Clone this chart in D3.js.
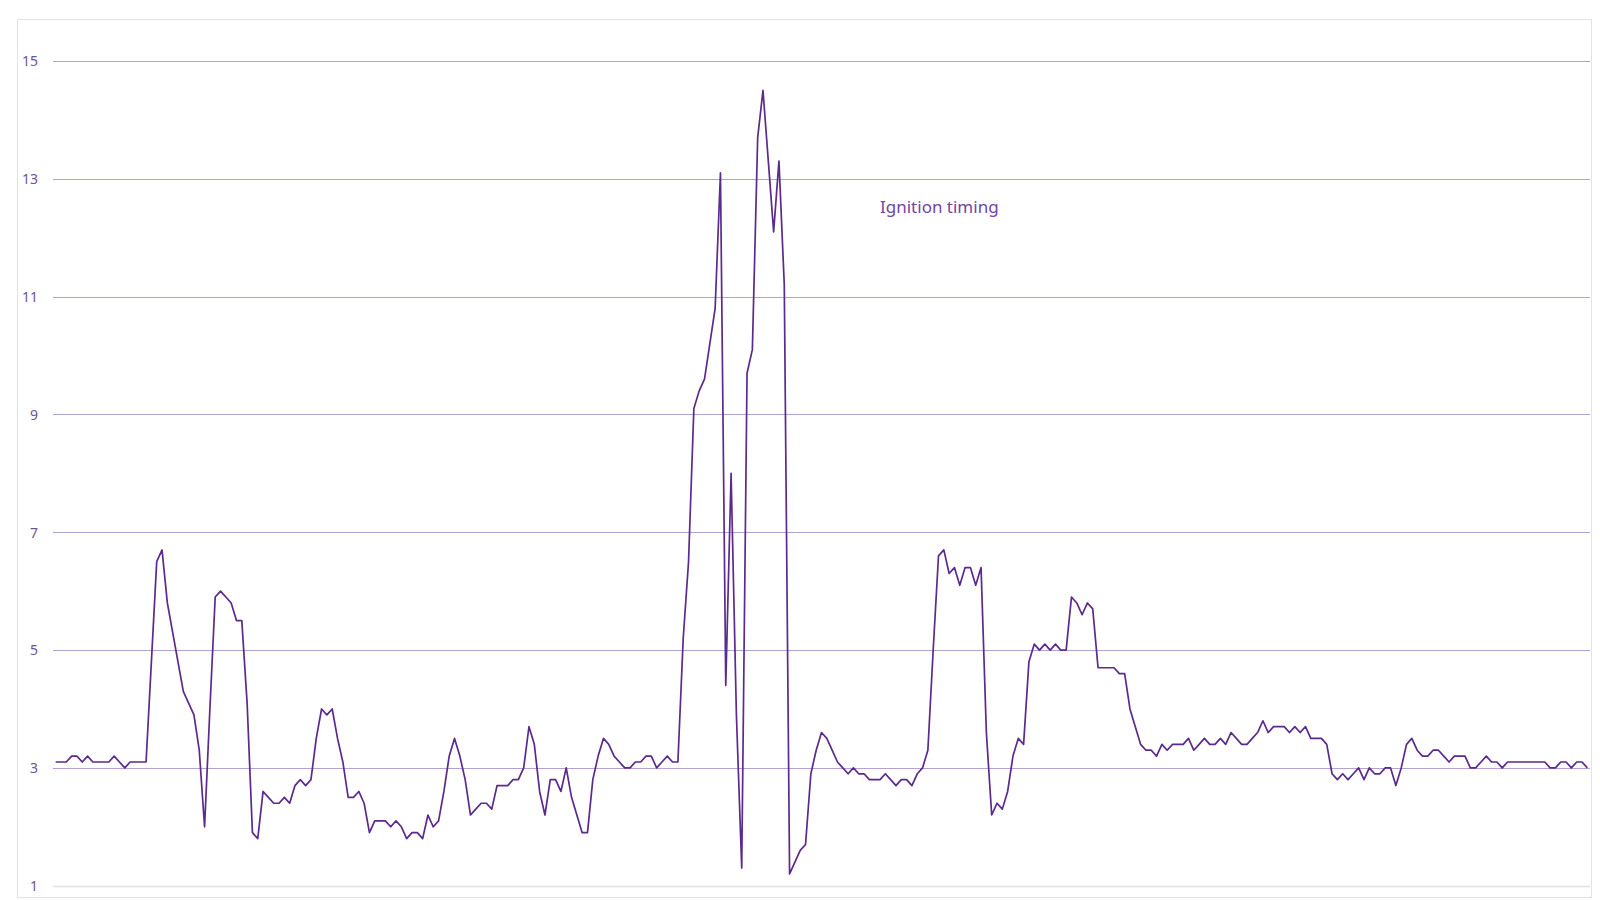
<!DOCTYPE html>
<html>
<head>
<meta charset="utf-8">
<script src="https://cdn.jsdelivr.net/npm/d3@7"></script>
<style>
  html, body { margin: 0; padding: 0; background: #ffffff; }
  svg { display: block; }
</style>
</head>
<body>
<svg id="chart" width="1600" height="900"></svg>
<script>
const seriesName = "Ignition timing";
const yTicks = [1, 3, 5, 7, 9, 11, 13, 15];
const ignition = [
  3.1,3.1,3.1,3.2,3.2,3.1,3.2,3.1,3.1,3.1,3.1,3.2,3.1,3.0,3.1,3.1,3.1,3.1,
  4.8,6.5,6.7,5.8,5.3,4.8,4.3,4.1,3.9,3.3,2.0,4.0,5.9,6.0,5.9,5.8,5.5,5.5,4.1,1.9,1.8,
  2.6,2.5,2.4,2.4,2.5,2.4,2.7,2.8,2.7,2.8,3.5,4.0,3.9,4.0,3.5,3.1,2.5,2.5,2.6,2.4,1.9,
  2.1,2.1,2.1,2.0,2.1,2.0,1.8,1.9,1.9,1.8,2.2,2.0,2.1,2.6,3.2,3.5,3.2,2.8,2.2,2.3,2.4,2.4,
  2.3,2.7,2.7,2.7,2.8,2.8,3.0,3.7,3.4,2.6,2.2,2.8,2.8,2.6,3.0,2.5,2.2,1.9,1.9,2.8,3.2,3.5,
  3.4,3.2,3.1,3.0,3.0,3.1,3.1,3.2,3.2,3.0,3.1,3.2,3.1,3.1,
  5.2,6.5,9.1,9.4,9.6,10.2,10.8,13.1,4.4,8.0,3.9,1.3,9.7,10.1,13.7,14.5,13.3,12.1,13.3,11.2,
  1.2,1.4,1.6,1.7,2.9,3.3,3.6,3.5,3.3,3.1,3.0,2.9,3.0,2.9,2.9,2.8,2.8,2.8,2.9,2.8,2.7,2.8,2.8,2.7,2.9,3.0,3.3,
  5.0,6.6,6.7,6.3,6.4,6.1,6.4,6.4,6.1,6.4,3.6,2.2,2.4,2.3,2.6,3.2,3.5,3.4,
  4.8,5.1,5.0,5.1,5.0,5.1,5.0,5.0,5.9,5.8,5.6,5.8,5.7,4.7,4.7,4.7,4.7,4.6,4.6,4.0,3.7,
  3.4,3.3,3.3,3.2,3.4,3.3,3.4,3.4,3.4,3.5,3.3,3.4,3.5,3.4,3.4,3.5,3.4,3.6,3.5,3.4,3.4,3.5,3.6,
  3.8,3.6,3.7,3.7,3.7,3.6,3.7,3.6,3.7,3.5,3.5,3.5,3.4,
  2.9,2.8,2.9,2.8,2.9,3.0,2.8,3.0,2.9,2.9,3.0,3.0,2.7,3.0,3.4,3.5,3.3,3.2,3.2,3.3,3.3,3.2,3.1,
  3.2,3.2,3.2,3.0,3.0,3.1,3.2,3.1,3.1,3.0,3.1,3.1,3.1,3.1,3.1,3.1,3.1,3.1,3.0,3.0,3.1,3.1,3.0,3.1,3.1,3.0
];
const categories = ignition.map((_, i) => i + 1);

const svg = d3.select("#chart");
const plot = { left: 53, right: 1590, top: 61, bottom: 885.7 };

// outer chart border
svg.append("rect")
  .attr("x", 17.5).attr("y", 19.5)
  .attr("width", 1574).attr("height", 878)
  .attr("fill", "#ffffff")
  .attr("stroke", "#e3e3e3").attr("stroke-width", 1);

const x = d3.scalePoint()
  .domain(categories)
  .range([plot.left, plot.right])
  .padding(0.5);

const y = d3.scaleLinear()
  .domain([1, 15])
  .range([plot.bottom, plot.top]);

// gridlines
svg.append("g")
  .selectAll("line")
  .data(yTicks)
  .join("line")
  .attr("x1", plot.left).attr("x2", plot.right)
  .attr("y1", d => Math.round(y(d)) + 0.5)
  .attr("y2", d => Math.round(y(d)) + 0.5)
  .attr("stroke", d => d === 1 ? "#e0e0e0" : "#b3a2d3")
  .attr("stroke-width", d => d === 1 ? 1.3 : 1.1);

// y axis labels
const yAxis = d3.axisLeft(y).tickValues(yTicks).tickSize(0).tickPadding(0);
const gy = svg.append("g")
  .attr("transform", `translate(38,0)`)
  .call(yAxis);
gy.select(".domain").remove();
gy.selectAll("text")
  .attr("fill", "#6e5491")
  .attr("font-family", "'Segoe UI', 'Noto Sans', 'Open Sans', sans-serif")
  .attr("font-size", 14)
  .attr("dy", "0.35em");

// line
const line = d3.line()
  .x((d, i) => x(categories[i]))
  .y(d => y(d));

svg.append("path")
  .datum(ignition)
  .attr("fill", "none")
  .attr("stroke", "#5b2a8c")
  .attr("stroke-width", 1.7)
  .attr("stroke-linejoin", "round")
  .attr("d", line);

// series label
svg.append("text")
  .attr("x", 880)
  .attr("y", 213)
  .attr("fill", "#7443a4")
  .attr("font-family", "'Segoe UI', 'Noto Sans', 'Open Sans', sans-serif")
  .attr("font-size", 17)
  .text(seriesName);
</script>
</body>
</html>
